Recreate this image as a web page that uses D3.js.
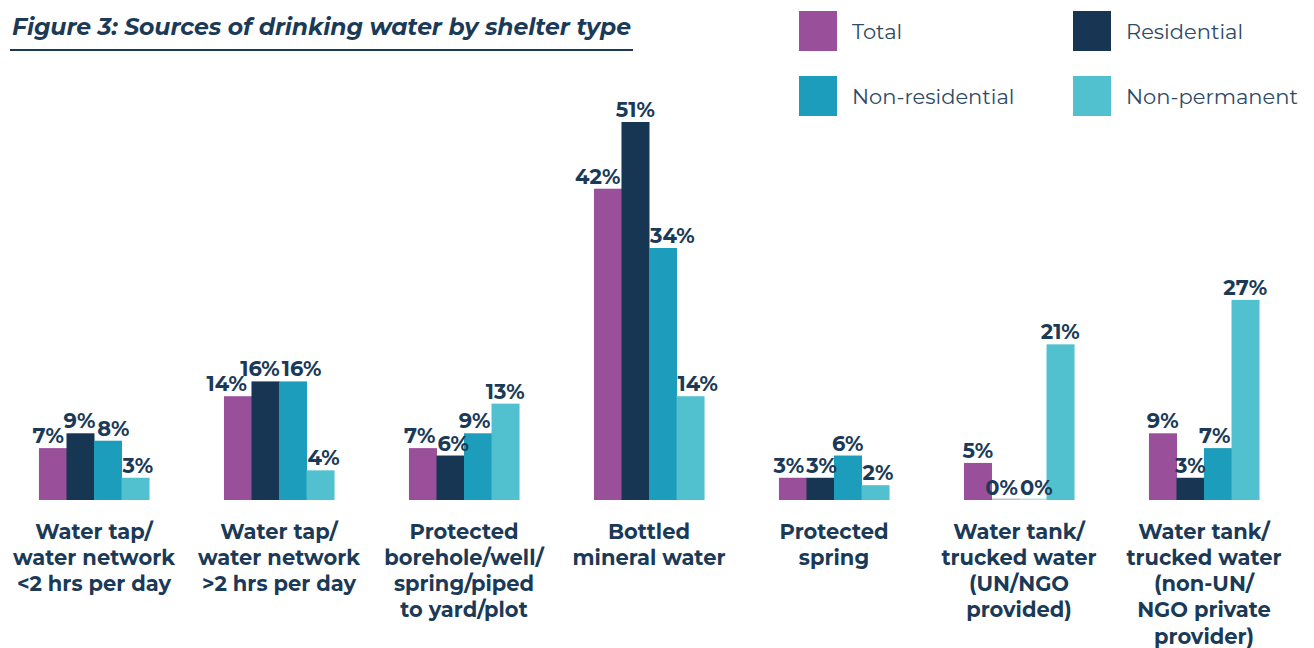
<!DOCTYPE html>
<html>
<head>
<meta charset="utf-8">
<script src="https://cdn.jsdelivr.net/npm/d3@7"></script>
<style>
  body { margin: 0; background: #fff; }
  svg text { font-family: "Montserrat", "Open Sans", "Noto Sans", sans-serif; }
</style>
</head>
<body>
<svg id="chart" width="1314" height="648"></svg>
<script>
const categories = [
  ["Water tap/", "water network", "<2 hrs per day"],
  ["Water tap/", "water network", ">2 hrs per day"],
  ["Protected", "borehole/well/", "spring/piped", "to yard/plot"],
  ["Bottled", "mineral water"],
  ["Protected", "spring"],
  ["Water tank/", "trucked water", "(UN/NGO", "provided)"],
  ["Water tank/", "trucked water", "(non-UN/", "NGO private", "provider)"],
];
const seriesNames = ["Total", "Residential", "Non-residential", "Non-permanent"];
const total = [7, 14, 7, 42, 3, 5, 9];
const residential = [9, 16, 6, 51, 3, 0, 3];
const nonResidential = [8, 16, 9, 34, 6, 0, 7];
const nonPermanent = [3, 4, 13, 14, 2, 21, 27];
const colors = ["#9a4f9b", "#163654", "#1c9dbb", "#51c1cf"];

const series = [total, residential, nonResidential, nonPermanent];
const rows = categories.map((lines, i) => ({
  lines,
  values: series.map((s, k) => ({ key: seriesNames[k], value: s[i], color: colors[k] })),
}));

const svg = d3.select("svg#chart");
const textColor = "#1b3a57";
const valueSize = 21;

// title
svg.append("text")
  .attr("x", 12)
  .attr("y", 35)
  .attr("font-size", 23.5)
  .attr("font-weight", 700)
  .attr("font-style", "italic")
  .attr("fill", textColor)
  .attr("textLength", 619)
  .text("Figure 3: Sources of drinking water by shelter type");
svg.append("line")
  .attr("x1", 10).attr("x2", 633)
  .attr("y1", 50).attr("y2", 50)
  .attr("stroke", textColor)
  .attr("stroke-width", 2);

// legend
const legend = svg.append("g")
  .selectAll("g")
  .data(seriesNames)
  .join("g")
  .attr("transform", (d, i) => `translate(${799 + (i % 2) * 274},${11 + Math.floor(i / 2) * 65})`);
legend.append("rect")
  .attr("width", 38).attr("height", 40)
  .attr("fill", (d, i) => colors[i]);
legend.append("text")
  .attr("x", 53).attr("y", 21)
  .attr("dy", "0.35em")
  .attr("font-size", 21)
  .attr("fill", "#2d4a66")
  .text((d) => d);

// scales
const x0 = d3.scaleBand()
  .domain(d3.range(categories.length))
  .range([1.5, 1296.5])
  .paddingInner(0.405)
  .paddingOuter(0.2025);
const x1 = d3.scaleBand()
  .domain(seriesNames)
  .range([0, x0.bandwidth()]);
const y = d3.scaleLinear().domain([0, 51]).range([500, 122]);

const groups = svg.append("g")
  .selectAll("g")
  .data(rows)
  .join("g")
  .attr("transform", (d, i) => `translate(${x0(i)},0)`);

groups.selectAll("rect")
  .data((d) => d.values)
  .join("rect")
  .attr("x", (d) => x1(d.key))
  .attr("width", x1.bandwidth() + 0.5)
  .attr("y", (d) => Math.min(y(d.value), y(0) - 1.5))
  .attr("height", (d) => Math.max(y(0) - y(d.value), 1.5))
  .attr("fill", (d) => d.color)
  .attr("fill-opacity", (d) => (d.value === 0 ? 0.3 : 1));

const valueLabels = groups.selectAll("text.value")
  .data((d) => d.values)
  .join("text")
  .attr("class", "value")
  .attr("y", (d) => y(d.value) - 5)
  .attr("text-anchor", "middle")
  .attr("font-size", valueSize)
  .attr("font-weight", 700)
  .attr("fill", textColor)
  .text((d) => d.value + "%");

/** nudge value labels sideways so they clear taller neighbour bars and each other */
groups.each(function ({ values }) {
  const texts = d3.select(this).selectAll("text.value").nodes();
  const bw = x1.bandwidth();
  const boxes = values.map((d, k) => {
    const w = texts[k].getComputedTextLength();
    const base = y(d.value) - 5;
    return { k, w, cx: x1(d.key) + bw / 2, top: base - valueSize * 0.72, base };
  });
  boxes.forEach((b) => {
    const prev = values[b.k - 1];
    const next = values[b.k + 1];
    const hitPrev = prev && y(prev.value) < b.base;
    const hitNext = next && y(next.value) < b.base;
    if (hitPrev && !hitNext) {
      b.cx = Math.max(b.cx, x1(prev.key) + bw + 1 + b.w / 2);
    } else if (hitNext && !hitPrev) {
      b.cx = Math.min(b.cx, x1(next.key) - 1 - b.w / 2);
    }
  });
  for (let k = 0; k < boxes.length - 1; k++) {
    const a = boxes[k];
    const b = boxes[k + 1];
    const vOverlap = a.top < b.base && b.top < a.base;
    const gap = (b.cx - b.w / 2) - (a.cx + a.w / 2);
    if (vOverlap && gap < 2) {
      const shift = (2 - gap) / 2;
      a.cx -= shift;
      b.cx += shift;
    }
  }
  boxes.forEach((b) => d3.select(texts[b.k]).attr("x", b.cx));
});

// category labels
groups.append("text")
  .attr("class", "cat")
  .attr("text-anchor", "middle")
  .attr("font-size", 21)
  .attr("font-weight", 700)
  .attr("fill", textColor)
  .selectAll("tspan")
  .data((d) => d.lines)
  .join("tspan")
  .attr("x", x0.bandwidth() / 2)
  .attr("y", (d, i) => 538.5 + i * 26.3)
  .text((d) => d);
</script>
</body>
</html>
